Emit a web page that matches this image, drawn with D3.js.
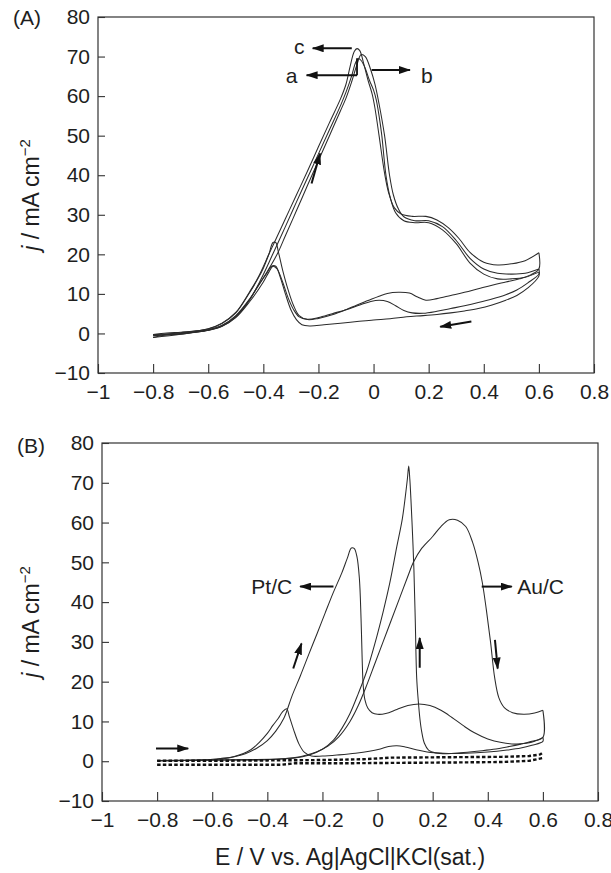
<!DOCTYPE html>
<html><head><meta charset="utf-8">
<script src="https://cdn.jsdelivr.net/npm/d3@7"></script>
<style>
body{margin:0;background:#fff;}
svg{display:block;}
text{font-family:"Liberation Sans",Arial,Helvetica,sans-serif;fill:#1e1e1e;}
</style></head><body>
<svg id="chart" width="611" height="873"></svg>
<script>
// ---------- axis ticks ----------
const xTicks = [-1,-0.8,-0.6,-0.4,-0.2,0,0.2,0.4,0.6,0.8];
const xTickLabels = ["\u22121","\u22120.8","\u22120.6","\u22120.4","\u22120.2","0","0.2","0.4","0.6","0.8"];
const yTicks = [-10,0,10,20,30,40,50,60,70,80];
const yTickLabels = ["\u221210","0","10","20","30","40","50","60","70","80"];

// ---------- Panel A : three successive cycles (E / V, j / mA cm-2) ----------
const cycleCForward = [[-0.80,-0.3],[-0.75,0.1],[-0.70,0.3],[-0.65,0.6],[-0.60,1.2],[-0.55,2.6],[-0.50,5.3],[-0.45,10.5],[-0.42,14],[-0.38,20],[-0.36,23],[-0.32,29],[-0.28,35],[-0.24,41],[-0.20,47.2],[-0.16,53.3],[-0.12,59.3],[-0.10,63],[-0.085,67.5],[-0.07,71.3],[-0.06,72],[-0.05,71.5],[-0.035,68],[-0.02,64],[-0.005,60.5],[0.005,57],[0.02,50],[0.04,40.5],[0.055,35.5],[0.075,31.8],[0.10,30.2],[0.14,29.6],[0.19,29.6],[0.23,28.7],[0.27,26.8],[0.31,24],[0.35,20.5],[0.40,18],[0.45,17.3],[0.50,17.6],[0.55,18.4],[0.60,20.4]];
const cycleCBackward = [[0.60,20.4],[0.60,16.3],[0.57,14.8],[0.53,13.8],[0.48,13],[0.43,12.2],[0.38,11.3],[0.33,10.4],[0.28,9.6],[0.23,8.8],[0.19,8.4],[0.16,9.2],[0.13,10.2],[0.09,10.4],[0.05,10.1],[0.02,9.4],[-0.02,8.3],[-0.06,7.2],[-0.10,6],[-0.15,4.7],[-0.20,3.8],[-0.24,3.5],[-0.27,4.5],[-0.29,7],[-0.31,11],[-0.33,16],[-0.345,20.5],[-0.355,23],[-0.365,23],[-0.38,20],[-0.40,16.5],[-0.42,13.8],[-0.45,10.3],[-0.50,5.2],[-0.55,2.5],[-0.60,1.1],[-0.70,0.2],[-0.80,-0.3]];
const cycleAForward = [[-0.80,-1],[-0.75,-0.4],[-0.70,-0.2],[-0.65,0.3],[-0.60,0.8],[-0.55,1.8],[-0.50,4.2],[-0.45,8.5],[-0.41,13.5],[-0.366,20],[-0.32,27],[-0.28,33.2],[-0.24,39.3],[-0.20,45.4],[-0.16,51.5],[-0.12,57.6],[-0.10,61],[-0.08,65],[-0.065,68.5],[-0.055,69.5],[-0.045,69],[-0.03,67],[-0.015,64],[0.00,61.5],[0.01,59],[0.02,55],[0.03,50],[0.045,40],[0.06,34.5],[0.08,30.5],[0.11,28.5],[0.15,28],[0.20,28],[0.25,26.2],[0.30,22.7],[0.35,17.8],[0.40,15],[0.45,13.8],[0.50,13.8],[0.55,14.2],[0.60,15.5]];
const cycleABackward = [[0.60,15.5],[0.60,15],[0.56,12.8],[0.52,11],[0.48,9.8],[0.43,8.7],[0.38,7.8],[0.33,7],[0.28,6.3],[0.23,5.6],[0.18,5.1],[0.14,5.2],[0.11,5.8],[0.08,7],[0.05,8.1],[0.02,8.4],[-0.01,8.1],[-0.05,7.2],[-0.10,6],[-0.15,5],[-0.20,4],[-0.24,3.6],[-0.27,4.2],[-0.29,6],[-0.31,9],[-0.33,13],[-0.35,16.3],[-0.365,17],[-0.38,15.5],[-0.40,13],[-0.45,8],[-0.50,4],[-0.55,1.8],[-0.60,0.8],[-0.70,-0.2],[-0.80,-1]];
const cycleBForward = [[-0.80,-0.6],[-0.75,-0.2],[-0.70,0],[-0.65,0.4],[-0.60,0.9],[-0.55,2],[-0.50,4.5],[-0.45,8.7],[-0.40,14],[-0.35,20],[-0.32,24.7],[-0.28,31],[-0.24,37.4],[-0.20,43.7],[-0.16,50],[-0.12,56.3],[-0.10,59.5],[-0.08,63.5],[-0.06,68],[-0.045,70.5],[-0.03,70],[-0.01,66.6],[0.005,63],[0.02,58],[0.04,50],[0.058,40],[0.072,35],[0.09,31.5],[0.11,29.5],[0.15,28.5],[0.20,28.5],[0.25,27],[0.30,23.5],[0.35,19],[0.40,16.3],[0.45,15.2],[0.50,15],[0.55,15.2],[0.60,16.3]];
const cycleBBackward = [[0.60,16.3],[0.60,14.5],[0.56,11.5],[0.52,9.6],[0.48,8.4],[0.43,7.2],[0.38,6.3],[0.33,5.7],[0.28,5.2],[0.23,4.8],[0.18,4.5],[0.12,4.2],[0.06,3.7],[0.00,3.4],[-0.06,3],[-0.12,2.6],[-0.18,2.2],[-0.23,1.9],[-0.26,2.2],[-0.28,3.5],[-0.30,6],[-0.32,10],[-0.34,14.5],[-0.355,17],[-0.37,17],[-0.39,15],[-0.42,12],[-0.45,8.5],[-0.50,4.3],[-0.55,2],[-0.60,0.9],[-0.70,0],[-0.80,-0.6]];

// ---------- Panel B : Pt/C, Au/C and blank (dotted) ----------
const ptForward = [[-0.80,0.1],[-0.70,0.2],[-0.62,0.3],[-0.56,0.6],[-0.52,1.1],[-0.48,1.9],[-0.44,3.2],[-0.40,5.2],[-0.37,7.5],[-0.34,10.8],[-0.31,16.5],[-0.28,21.5],[-0.25,26.8],[-0.22,32],[-0.19,37.3],[-0.16,42.5],[-0.13,47.3],[-0.11,51],[-0.095,53.6],[-0.085,53.5],[-0.075,51.5],[-0.066,46],[-0.060,36],[-0.056,26],[-0.052,19],[-0.046,15.5],[-0.035,13.3],[-0.02,12.2],[0.00,11.8],[0.03,12],[0.07,13],[0.11,14],[0.15,14.4],[0.19,14],[0.23,12.8],[0.27,11],[0.31,9],[0.35,7.2],[0.40,5.6],[0.45,4.7],[0.50,4.3],[0.54,4.5],[0.57,5],[0.60,6]];
const ptBackward = [[0.60,6],[0.60,5],[0.56,4],[0.52,3.3],[0.47,2.8],[0.40,2.3],[0.32,2],[0.24,2],[0.18,2.3],[0.14,2.9],[0.10,3.6],[0.07,3.9],[0.04,3.7],[0.01,3.1],[-0.03,2.5],[-0.08,2],[-0.14,1.6],[-0.20,1.3],[-0.24,1.3],[-0.265,2.2],[-0.285,4.3],[-0.305,8],[-0.32,11.2],[-0.33,13.2],[-0.345,12.4],[-0.36,10.8],[-0.38,9],[-0.40,7],[-0.43,4.7],[-0.46,2.9],[-0.52,1.2],[-0.57,0.7],[-0.65,0.3],[-0.80,0.1]];
const auForward = [[-0.80,0.2],[-0.60,0.3],[-0.45,0.4],[-0.35,0.6],[-0.30,0.9],[-0.26,1.5],[-0.22,2.4],[-0.18,3.8],[-0.14,6.2],[-0.10,10],[-0.07,14],[-0.04,19],[-0.01,24.5],[0.02,30],[0.05,35.5],[0.08,41],[0.11,46.5],[0.13,50],[0.16,53.5],[0.20,56.5],[0.23,59],[0.26,60.7],[0.29,60.6],[0.32,59],[0.345,55],[0.365,50],[0.38,45],[0.395,38],[0.41,30],[0.425,21],[0.44,16],[0.46,13.5],[0.49,12.2],[0.53,11.8],[0.57,12.1],[0.60,12.8]];
const auBackward = [[0.60,12.8],[0.60,6],[0.56,5],[0.52,4.3],[0.47,3.6],[0.42,3],[0.36,2.5],[0.30,2.1],[0.25,1.9],[0.21,2.1],[0.185,2.8],[0.17,4.5],[0.16,7.5],[0.154,10.5],[0.148,15],[0.142,21],[0.137,35],[0.132,48],[0.127,57],[0.121,66],[0.117,71],[0.113,74.2],[0.109,71.5],[0.105,69],[0.09,61],[0.07,54],[0.045,45],[0.02,37.5],[-0.01,29.5],[-0.04,22.5],[-0.07,17],[-0.10,12],[-0.13,8.2],[-0.16,5.3],[-0.20,3],[-0.25,1.5],[-0.30,0.8],[-0.40,0.4],[-0.55,0.3],[-0.80,0.2]];
const blankUpper = [[-0.80,0.1],[-0.60,0.1],[-0.40,0.2],[-0.20,0.3],[-0.05,0.5],[0.05,0.9],[0.25,1.0],[0.45,1.1],[0.55,1.3],[0.59,1.7],[0.60,2.2]];
const blankLower = [[-0.80,-0.9],[-0.60,-0.9],[-0.35,-0.9],[-0.30,-0.5],[-0.10,-0.5],[0.10,-0.4],[0.30,-0.3],[0.45,-0.2],[0.55,0.1],[0.60,0.8]];

// ---------- annotations (data coordinates) ----------
const arrowsA = [
  [[-0.079,72.1],[-0.221,72.1]],
  [[-0.060,65.3],[-0.243,65.3]],
  [[-0.007,66.6],[0.132,66.6]],
  [[-0.225,37.9],[-0.194,45.5]],
  [[0.355,3.0],[0.242,1.7]]
];
const leadersA = [[[-0.060,69.6],[-0.060,65.3]]];
const labelsA = [["c",-0.270,72.4],["a",-0.297,65.0],["b",0.193,65.0]];
const arrowsB = [
  [[-0.160,43.9],[-0.281,43.9]],
  [[0.378,43.9],[0.487,43.9]],
  [[-0.306,23.3],[-0.276,29.6]],
  [[0.153,23.5],[0.153,31.0]],
  [[0.426,30.5],[0.436,23.3]],
  [[-0.804,3.2],[-0.687,3.2]]
];
const labelsB = [["Pt/C",-0.384,43.9],["Au/C",0.592,43.9]];

// ---------- drawing ----------
const svg = d3.select("#chart");
const defs = svg.append("defs");
defs.append("marker").attr("id","ah").attr("viewBox","0 0 12 8")
  .attr("refX",11).attr("refY",4).attr("markerWidth",12).attr("markerHeight",8)
  .attr("markerUnits","userSpaceOnUse").attr("orient","auto")
  .append("path").attr("d","M0,0 L12,4 L0,8 Z").attr("fill","#111");

function drawPanel(box, solid, dotted, arrows, leaders, labels, tag, tagPos) {
  const x = d3.scaleLinear().domain([-1,0.8]).range([box.l, box.r]);
  const y = d3.scaleLinear().domain([-10,80]).range([box.b, box.t]);
  const g = svg.append("g");

  const line = d3.line().x(d=>x(d[0])).y(d=>y(d[1])).curve(d3.curveCatmullRom.alpha(0.5));
  solid.forEach(s => g.append("path").attr("d", line(s)).attr("fill","none")
      .attr("stroke","#2b2b2b").attr("stroke-width",1.05).attr("stroke-linejoin","round"));
  const lineLin = d3.line().x(d=>x(d[0])).y(d=>y(d[1]));
  dotted.forEach(s => g.append("path").attr("d", lineLin(s)).attr("fill","none")
      .attr("stroke","#111").attr("stroke-width",2.4).attr("stroke-dasharray","3.5,2.2"));

  // axes
  const ax = g.append("g").attr("transform",`translate(0,${box.b})`)
    .call(d3.axisBottom(x).tickValues(xTicks).tickFormat((d,i)=>xTickLabels[i])
      .tickSizeInner(-9).tickSizeOuter(0).tickPadding(11.5));
  const ay = g.append("g").attr("transform",`translate(${box.l},0)`)
    .call(d3.axisLeft(y).tickValues(yTicks).tickFormat((d,i)=>yTickLabels[i])
      .tickSizeInner(-7).tickSizeOuter(0).tickPadding(8));
  [ax, ay].forEach(a => {
    a.attr("font-size",null).attr("font-family",null);
    a.select(".domain").remove();
    a.selectAll("line").attr("stroke","#333").attr("stroke-width",1.1);
    a.selectAll("text").attr("font-size","21px").attr("fill","#1e1e1e");
  });
  g.append("rect").attr("x",box.l).attr("y",box.t).attr("width",box.r-box.l).attr("height",box.b-box.t)
    .attr("fill","none").attr("stroke","#333").attr("stroke-width",1.2);

  leaders.forEach(a => g.append("line").attr("x1",x(a[0][0])).attr("y1",y(a[0][1]))
      .attr("x2",x(a[1][0])).attr("y2",y(a[1][1])).attr("stroke","#111").attr("stroke-width",1.8));
  arrows.forEach(a => g.append("line").attr("x1",x(a[0][0])).attr("y1",y(a[0][1]))
      .attr("x2",x(a[1][0])).attr("y2",y(a[1][1])).attr("stroke","#111").attr("stroke-width",2)
      .attr("marker-end","url(#ah)"));
  labels.forEach(l => g.append("text").attr("x",x(l[1])).attr("y",y(l[2])).attr("dy","0.34em")
      .attr("text-anchor","middle").attr("font-size","21px").text(l[0]));

  // panel tag
  g.append("text").attr("x",tagPos[0]).attr("y",tagPos[1]).attr("dy","0.35em")
    .attr("text-anchor","middle").attr("font-size","21px").text(tag);

  // y title
  const yt = g.append("text").attr("transform",`translate(39,${(box.t+box.b)/2}) rotate(-90)`)
    .attr("text-anchor","middle").attr("font-size","23px");
  yt.append("tspan").attr("font-style","italic").text("j");
  yt.append("tspan").text(" / mA cm");
  yt.append("tspan").attr("font-size","15px").attr("dy","-9").text("\u22122");
  return {x, y};
}

const boxA = {l:98, r:594, t:17, b:373};
const boxB = {l:102, r:598, t:443, b:801};
drawPanel(boxA, [cycleAForward,cycleABackward,cycleBForward,cycleBBackward,cycleCForward,cycleCBackward], [],
  arrowsA, leadersA, labelsA, "(A)", [27,18]);
drawPanel(boxB, [ptForward,ptBackward,auForward,auBackward], [blankUpper, blankLower],
  arrowsB, [], labelsB, "(B)", [31,446]);

svg.append("text").attr("x",(boxB.l+boxB.r)/2).attr("y",865).attr("text-anchor","middle")
  .attr("font-size","23px").text("E / V vs. Ag|AgCl|KCl(sat.)");
</script>
</body></html>
